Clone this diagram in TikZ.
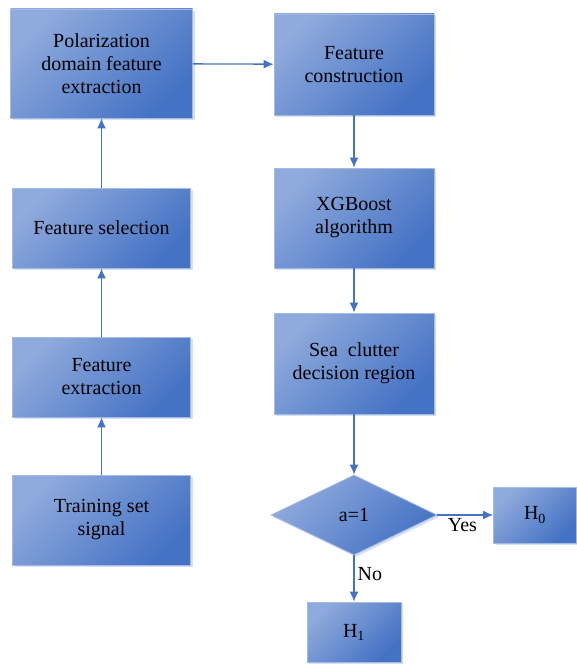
\documentclass[tikz,border=0pt]{standalone}
\usepackage{fontspec}
\setmainfont{Liberation Serif}
\usetikzlibrary{shapes.geometric,shadows,arrows.meta}

\definecolor{boxlight}{HTML}{8FAADC}
\definecolor{boxdark}{HTML}{4472C4}
\definecolor{boxedge}{HTML}{A4B9E4}
\definecolor{flowline}{HTML}{4472C4}

\begin{document}
\begin{tikzpicture}[x=1pt,y=-1pt,>={Latex[length=10pt,width=9pt]},font=\rmfamily\fontsize{20}{23}\selectfont]

	% Define node styles
	\tikzstyle{process box} = [rectangle, draw=boxedge, line width=0.8pt, inner sep=0pt, align=center, text=black,
		top color=boxlight, bottom color=boxdark, shading angle=45,
		drop shadow={shadow xshift=2pt, shadow yshift=-2pt, fill=boxlight!60, opacity=0.6}]
	\tikzstyle{decision box} = [process box, diamond]
	\tikzstyle{flow line} = [->, draw=flowline, line width=1.3pt]

	\useasboundingbox (0,0) rectangle (576,666);

	% Left column
	\node[process box, minimum width=182, minimum height=109] (polar) at (101.5,63.5) {Polarization\\domain feature\\extraction};
	\node[process box, minimum width=178, minimum height=80] (fselect) at (101.5,228) {Feature selection};
	\node[process box, minimum width=178, minimum height=80] (fextract) at (101.5,377) {Feature\\extraction};
	\node[process box, minimum width=178, minimum height=90] (train) at (101.5,520) {Training set\\signal};

	% Right column
	\node[process box, minimum width=160, minimum height=101] (fconstruct) at (354,64.5) {Feature\\construction};
	\node[process box, minimum width=160, minimum height=100] (xgb) at (354,218) {XGBoost\\algorithm};
	\node[process box, minimum width=160, minimum height=101] (clutter) at (354,363.5) {Sea\ \ clutter\\decision region};
	\node[decision box, minimum width=166, minimum height=80] (decide) at (354,515) {a=1};
	\node[process box, minimum width=83, minimum height=56] (hzero) at (535,515) {H\textsubscript{0}};
	\node[process box, minimum width=94, minimum height=60] (hone) at (354,632) {H\textsubscript{1}};

	% Draw edges between boxes
	\foreach \source/\dest in {
		train/fextract,
		fextract/fselect,
		fselect/polar,
		polar/fconstruct,
		fconstruct/xgb,
		xgb/clutter,
		clutter/decide}
	\path (\source) edge[flow line] (\dest);

	\path (decide) edge[flow line] node[below, pos=0.45, inner sep=3pt] (yes) {Yes} (hzero);
	\path (decide) edge[flow line] node[right, pos=0.4, inner sep=3pt] (no) {No} (hone);

\end{tikzpicture}
\end{document}
